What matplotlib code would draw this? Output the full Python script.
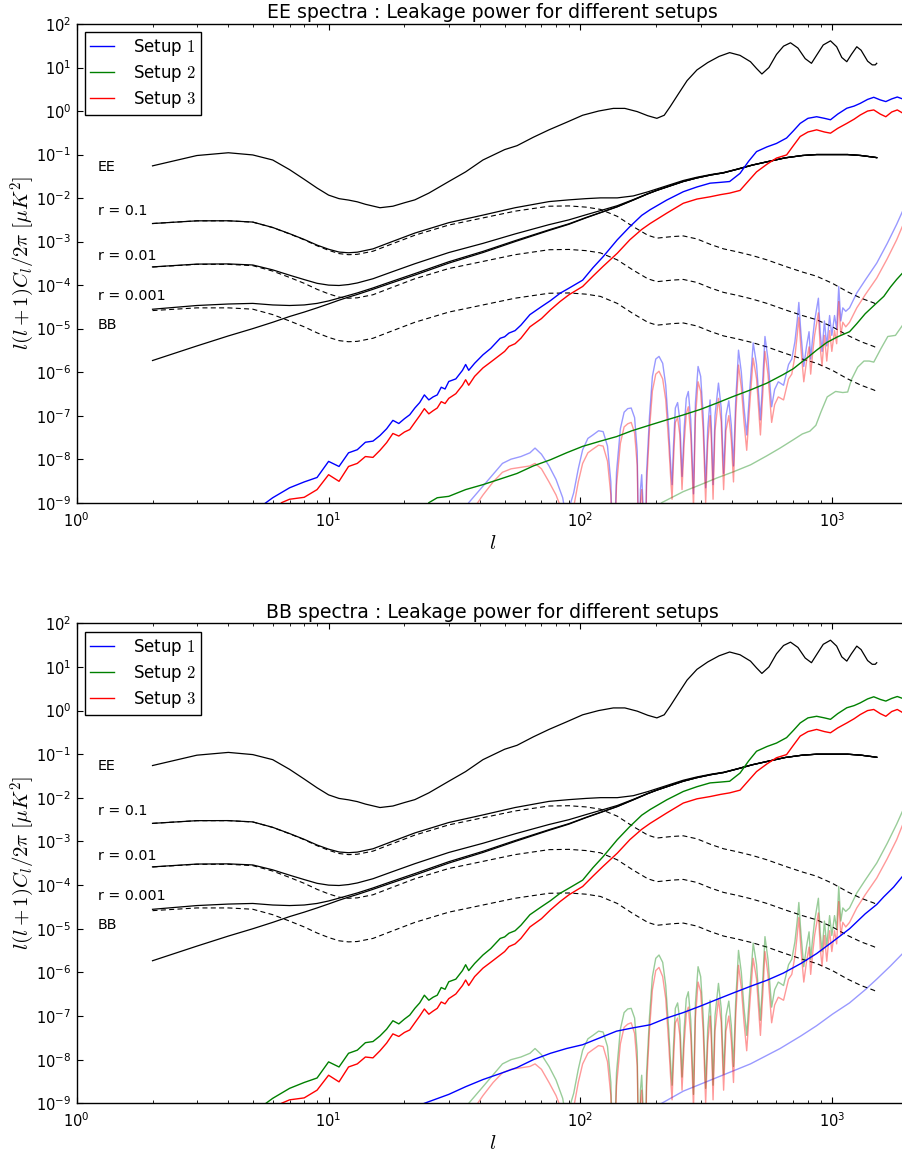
import numpy as np
import matplotlib
matplotlib.use("Agg")
import matplotlib.pyplot as plt
from matplotlib.ticker import LogLocator, NullLocator

plt.rcParams['font.family'] = ['DejaVu Sans']
plt.rcParams['mathtext.fontset'] = 'cm'
plt.rcParams['axes.unicode_minus'] = False

# ---------------- theory curves (shared by both panels) ----------------
ee_theory = [(2, 0.055), (3, 0.095), (4, 0.11), (5, 0.098), (6, 0.075), (7, 0.045), (8, 0.027),
             (9, 0.017), (10, 0.0117), (11, 0.0097), (12, 0.009), (13, 0.0082), (14, 0.0072),
             (16, 0.006), (18, 0.0065), (20, 0.0078), (22, 0.0091), (25, 0.013), (30, 0.024),
             (35, 0.04), (41, 0.075), (50, 0.13), (56, 0.16), (65, 0.25), (75, 0.37), (88, 0.55),
             (102, 0.8), (118, 1.0), (135, 1.15), (150, 1.15), (168, 0.97), (185, 0.78), (201, 0.68),
             (215, 0.8), (227, 1.26), (245, 2.5), (265, 5.0), (290, 8.8), (320, 13.0), (355, 18.0),
             (391, 22.0), (430, 19.0), (473, 13.6), (500, 9.5), (525, 7.1), (560, 10.0), (600, 20.0),
             (640, 31.0), (682, 37.0), (730, 28.0), (780, 16.0), (826, 12.5), (870, 20.0), (920, 33.0),
             (983, 41.0), (1040, 30.0), (1090, 17.0), (1141, 13.6), (1190, 20.0), (1250, 30.0),
             (1300, 25.0), (1380, 14.0), (1440, 11.5), (1480, 11.5), (1500, 12.5)]

l_theory = [2, 3, 4, 5, 6, 7, 8, 9, 10, 11, 12, 13, 15, 18, 22, 30, 41, 55, 75, 90, 105, 120, 140,
            162, 185, 201, 230, 256, 290, 330, 370, 420, 480, 550, 650, 760, 866, 1000, 1150, 1300,
            1460, 1500]
bb_lensing = [1.85e-6, 4.0e-6, 6.8e-6, 1.0e-5, 1.4e-5, 1.9e-5, 2.4e-5, 3.0e-5, 3.7e-5, 4.5e-5,
              5.3e-5, 6.1e-5, 8.0e-5, 1.15e-4, 1.7e-4, 3.2e-4, 5.6e-4, 1.0e-3, 1.8e-3, 2.5e-3,
              3.5e-3, 4.6e-3, 6.3e-3, 9.0e-3, 1.25e-2, 1.5e-2, 1.95e-2, 2.4e-2, 2.9e-2, 3.4e-2,
              3.8e-2, 4.6e-2, 5.7e-2, 6.8e-2, 8.4e-2, 9.5e-2, 0.100, 0.100, 0.100, 0.095, 0.087, 0.085]
bb_tensor_r01 = [2.6e-3, 3.0e-3, 3.0e-3, 2.8e-3, 2.1e-3, 1.5e-3, 1.1e-3, 8.0e-4, 6.3e-4, 5.3e-4,
                 5.0e-4, 5.1e-4, 6.0e-4, 9.0e-4, 1.4e-3, 2.4e-3, 3.5e-3, 5.0e-3, 6.5e-3, 6.6e-3,
                 6.2e-3, 5.5e-3, 3.8e-3, 2.2e-3, 1.4e-3, 1.2e-3, 1.3e-3, 1.35e-3, 1.15e-3, 8.5e-4,
                 6.8e-4, 5.8e-4, 4.8e-4, 3.8e-4, 2.7e-4, 2.0e-4, 1.6e-4, 1.1e-4, 7.0e-5, 5.0e-5,
                 3.9e-5, 3.6e-5]
bb_tensor_r001 = [2.6e-4, 3.0e-4, 3.0e-4, 2.8e-4, 2.1e-4, 1.5e-4, 1.1e-4, 8.0e-5, 6.3e-5, 5.3e-5,
                  5.0e-5, 5.1e-5, 6.0e-5, 9.0e-5, 1.4e-4, 2.4e-4, 3.5e-4, 5.0e-4, 6.5e-4, 6.6e-4,
                  6.2e-4, 5.5e-4, 3.8e-4, 2.2e-4, 1.4e-4, 1.2e-4, 1.3e-4, 1.35e-4, 1.15e-4, 8.5e-5,
                  6.8e-5, 5.8e-5, 4.8e-5, 3.8e-5, 2.7e-5, 2.0e-5, 1.6e-5, 1.1e-5, 7.0e-6, 5.0e-6,
                  3.9e-6, 3.6e-6]
bb_tensor_r0001 = [2.6e-5, 3.0e-5, 3.0e-5, 2.8e-5, 2.1e-5, 1.5e-5, 1.1e-5, 8.0e-6, 6.3e-6, 5.3e-6,
                   5.0e-6, 5.1e-6, 6.0e-6, 9.0e-6, 1.4e-5, 2.4e-5, 3.5e-5, 5.0e-5, 6.5e-5, 6.6e-5,
                   6.2e-5, 5.5e-5, 3.8e-5, 2.2e-5, 1.4e-5, 1.2e-5, 1.3e-5, 1.35e-5, 1.15e-5, 8.5e-6,
                   6.8e-6, 5.8e-6, 4.8e-6, 3.8e-6, 2.7e-6, 2.0e-6, 1.6e-6, 1.1e-6, 7.0e-7, 5.0e-7,
                   3.9e-7, 3.6e-7]
bb_total_r01 = [2.60e-3, 3.00e-3, 3.01e-3, 2.81e-3, 2.11e-3, 1.52e-3, 1.12e-3, 8.3e-4, 6.67e-4,
                5.75e-4, 5.53e-4, 5.71e-4, 6.8e-4, 1.015e-3, 1.57e-3, 2.72e-3, 4.06e-3, 6.0e-3,
                8.3e-3, 9.1e-3, 9.7e-3, 1.01e-2, 1.01e-2, 1.12e-2, 1.39e-2, 1.62e-2, 2.08e-2,
                2.535e-2, 3.015e-2, 3.485e-2, 3.868e-2, 4.658e-2, 5.748e-2, 6.838e-2, 8.427e-2,
                9.52e-2, 0.1002, 0.1001, 0.1001, 0.0950, 0.0870, 0.0850]
bb_total_r001 = [2.62e-4, 3.04e-4, 3.07e-4, 2.9e-4, 2.24e-4, 1.69e-4, 1.34e-4, 1.1e-4, 1.0e-4,
                 9.8e-5, 1.03e-4, 1.12e-4, 1.4e-4, 2.05e-4, 3.1e-4, 5.6e-4, 9.1e-4, 1.5e-3, 2.45e-3,
                 3.16e-3, 4.12e-3, 5.15e-3, 6.68e-3, 9.22e-3, 1.264e-2, 1.512e-2, 1.963e-2,
                 2.4135e-2, 2.9115e-2, 3.4085e-2, 3.8068e-2, 4.6058e-2, 5.7048e-2, 6.8038e-2,
                 8.4027e-2, 9.502e-2, 0.1000, 0.1000, 0.1000, 0.0950, 0.0870, 0.0850]
bb_total_r0001 = [2.79e-5, 3.4e-5, 3.68e-5, 3.8e-5, 3.5e-5, 3.4e-5, 3.5e-5, 3.8e-5, 4.33e-5,
                  5.03e-5, 5.8e-5, 6.61e-5, 8.6e-5, 1.24e-4, 1.84e-4, 3.44e-4, 5.95e-4, 1.05e-3,
                  1.865e-3, 2.566e-3, 3.562e-3, 4.655e-3, 6.338e-3, 9.022e-3, 1.2514e-2, 1.5012e-2,
                  1.9513e-2, 2.4014e-2, 2.9012e-2, 3.4009e-2, 3.8007e-2, 4.6006e-2, 5.7005e-2,
                  6.8004e-2, 8.4003e-2, 9.5002e-2, 0.1000, 0.1000, 0.1000, 0.0950, 0.0870, 0.0850]

curve_labels = ["EE", "r = 0.1", "r = 0.01", "r = 0.001", "BB"]
curve_label_y = [0.053, 5.1e-3, 4.7e-4, 5.6e-5, 1.2e-5]

# ---------------- leakage: main (strong) curves ----------------
ee_setup1 = [(5, 6e-10), (6, 1.3e-9), (7, 2.2e-9), (8, 3.0e-9), (9, 3.8e-9), (10, 8.9e-9),
             (11, 6.8e-9), (12, 1.4e-8), (13, 1.65e-8), (14, 2.45e-8), (15, 2.6e-8), (16, 3.5e-8),
             (17, 5e-8), (18, 7.8e-8), (19, 6.6e-8), (20, 8.5e-8), (21, 1.05e-7), (22, 1.5e-7),
             (23, 2.0e-7), (24, 3.0e-7), (25, 2.3e-7), (26, 2.7e-7), (27, 3.0e-7), (28, 4.5e-7),
             (29, 4.1e-7), (30, 6.1e-7), (32, 7e-7), (34, 1.1e-6), (35, 1.5e-6), (36, 1.1e-6),
             (38, 1.6e-6), (41, 2.5e-6), (44, 3.5e-6), (48, 6e-6), (50, 6.5e-6), (52, 7.9e-6),
             (55, 9e-6), (58, 1.2e-5), (63, 2.1e-5), (70, 3.2e-5), (76, 4.4e-5), (83, 6.5e-5),
             (90, 8.5e-5), (102, 1.3e-4), (112, 2.5e-4), (123, 4.5e-4), (140, 1.1e-3),
             (157, 2.2e-3), (175, 4e-3), (189, 5.4e-3), (220, 9e-3), (256, 0.014), (290, 0.018),
             (327, 0.022), (360, 0.023), (391, 0.024), (430, 0.037), (465, 0.07), (500, 0.117),
             (550, 0.15), (600, 0.18), (658, 0.24), (700, 0.35), (745, 0.52), (800, 0.68),
             (866, 0.74), (930, 0.68), (983, 0.63), (1050, 0.85), (1141, 1.16), (1220, 1.3),
             (1290, 1.5), (1380, 1.85), (1460, 2.07), (1550, 1.8), (1630, 1.65), (1720, 1.9),
             (1810, 2.1), (1900, 1.9), (2000, 2.0)]
ee_setup3 = [(6, 5e-10), (6.5, 1e-9), (7, 1.2e-9), (8, 1.33e-9), (9, 2.0e-9), (10, 4.4e-9),
             (11, 3.1e-9), (12, 6.8e-9), (13, 8e-9), (14, 1.15e-8), (15, 1.1e-8), (16, 1.6e-8),
             (17, 2.4e-8), (18, 3.9e-8), (19, 3.4e-8), (20, 4.2e-8), (21, 4.8e-8), (22, 7e-8),
             (23, 1.0e-7), (24, 1.45e-7), (25, 1.1e-7), (26, 1.3e-7), (27, 1.5e-7), (28, 2.1e-7),
             (29, 1.9e-7), (30, 2.5e-7), (32, 3.2e-7), (34, 5e-7), (35, 6.7e-7), (36, 5e-7),
             (38, 8e-7), (41, 1.25e-6), (44, 1.7e-6), (48, 2.5e-6), (50, 3e-6), (52, 3.9e-6),
             (55, 4.5e-6), (58, 6e-6), (63, 1.1e-5), (70, 1.7e-5), (76, 2.7e-5), (83, 4.2e-5),
             (90, 6e-5), (102, 9.3e-5), (112, 1.6e-4), (123, 2.7e-4), (140, 5.4e-4), (157, 1.1e-3),
             (175, 1.9e-3), (189, 2.6e-3), (220, 4.5e-3), (256, 7.6e-3), (290, 9.5e-3),
             (327, 0.0107), (360, 0.012), (391, 0.013), (430, 0.015), (465, 0.025), (500, 0.04),
             (550, 0.06), (600, 0.083), (658, 0.098), (700, 0.16), (745, 0.26), (800, 0.33),
             (866, 0.37), (930, 0.33), (983, 0.31), (1050, 0.4), (1141, 0.52), (1220, 0.65),
             (1290, 0.81), (1380, 1.0), (1460, 1.06), (1550, 0.85), (1630, 0.74), (1720, 0.95),
             (1810, 1.06), (1900, 0.9), (2000, 0.95)]
ee_setup2 = [(25, 1e-9), (27, 1.3e-9), (30, 1.4e-9), (35, 2e-9), (41, 2.6e-9), (48, 3.5e-9),
             (56, 4.7e-9), (65, 7e-9), (76, 9.7e-9), (88, 1.4e-8), (102, 1.97e-8), (120, 2.6e-8),
             (139, 3.3e-8), (160, 4.5e-8), (189, 6.1e-8), (220, 8e-8), (256, 1.04e-7), (300, 1.4e-7),
             (348, 1.95e-7), (400, 2.7e-7), (473, 3.9e-7), (550, 5.6e-7), (638, 8.8e-7), (700, 1.2e-6),
             (745, 1.6e-6), (800, 2.2e-6), (866, 3.2e-6), (950, 4.8e-6), (1050, 6.5e-6),
             (1170, 8.5e-6), (1250, 1.3e-5), (1350, 2.2e-5), (1500, 3.9e-5), (1600, 5.5e-5),
             (1700, 9e-5), (1800, 1.35e-4), (1900, 1.9e-4), (2000, 2.5e-4)]

bb_setup2 = [(5, 6e-10), (6, 1.3e-9), (7, 2.2e-9), (8, 3.0e-9), (9, 3.8e-9), (10, 8.9e-9),
             (11, 6.8e-9), (12, 1.4e-8), (13, 1.65e-8), (14, 2.45e-8), (15, 2.6e-8), (16, 3.5e-8),
             (17, 5e-8), (18, 7.8e-8), (19, 6.6e-8), (20, 8.5e-8), (21, 1.05e-7), (22, 1.5e-7),
             (23, 2.0e-7), (24, 3.0e-7), (25, 2.3e-7), (26, 2.7e-7), (27, 3.0e-7), (28, 4.5e-7),
             (29, 4.1e-7), (30, 6.1e-7), (32, 7e-7), (34, 1.1e-6), (35, 1.5e-6), (36, 1.1e-6),
             (38, 1.6e-6), (41, 2.5e-6), (44, 3.5e-6), (48, 6e-6), (50, 6.5e-6), (52, 7.9e-6),
             (55, 9e-6), (58, 1.2e-5), (63, 2.1e-5), (70, 3.2e-5), (76, 4.4e-5), (83, 6.5e-5),
             (90, 8.5e-5), (102, 1.3e-4), (112, 2.5e-4), (123, 4.5e-4), (140, 1.1e-3),
             (157, 2.2e-3), (175, 4e-3), (189, 5.4e-3), (220, 9e-3), (256, 0.014), (290, 0.018),
             (327, 0.022), (360, 0.023), (391, 0.024), (430, 0.037), (465, 0.07), (500, 0.117),
             (550, 0.15), (600, 0.18), (658, 0.24), (700, 0.35), (745, 0.52), (800, 0.68),
             (866, 0.74), (930, 0.68), (983, 0.63), (1050, 0.85), (1141, 1.16), (1220, 1.3),
             (1290, 1.5), (1380, 1.85), (1460, 2.07), (1550, 1.8), (1630, 1.65), (1720, 1.9),
             (1810, 2.1), (1900, 1.9), (2000, 2.0)]
bb_setup3 = [(6, 5e-10), (6.5, 1e-9), (7, 1.2e-9), (8, 1.33e-9), (9, 2.0e-9), (10, 4.4e-9),
             (11, 3.1e-9), (12, 6.8e-9), (13, 8e-9), (14, 1.15e-8), (15, 1.1e-8), (16, 1.6e-8),
             (17, 2.4e-8), (18, 3.9e-8), (19, 3.4e-8), (20, 4.2e-8), (21, 4.8e-8), (22, 7e-8),
             (23, 1.0e-7), (24, 1.45e-7), (25, 1.1e-7), (26, 1.3e-7), (27, 1.5e-7), (28, 2.1e-7),
             (29, 1.9e-7), (30, 2.5e-7), (32, 3.2e-7), (34, 5e-7), (35, 6.7e-7), (36, 5e-7),
             (38, 8e-7), (41, 1.25e-6), (44, 1.7e-6), (48, 2.5e-6), (50, 3e-6), (52, 3.9e-6),
             (55, 4.5e-6), (58, 6e-6), (63, 1.1e-5), (70, 1.7e-5), (76, 2.7e-5), (83, 4.2e-5),
             (90, 6e-5), (102, 9.3e-5), (112, 1.6e-4), (123, 2.7e-4), (140, 5.4e-4), (157, 1.1e-3),
             (175, 1.9e-3), (189, 2.6e-3), (220, 4.5e-3), (256, 7.6e-3), (290, 9.5e-3),
             (327, 0.0107), (360, 0.012), (391, 0.013), (430, 0.015), (465, 0.025), (500, 0.04),
             (550, 0.06), (600, 0.083), (658, 0.098), (700, 0.16), (745, 0.26), (800, 0.33),
             (866, 0.37), (930, 0.33), (983, 0.31), (1050, 0.4), (1141, 0.52), (1220, 0.65),
             (1290, 0.81), (1380, 1.0), (1460, 1.06), (1550, 0.85), (1630, 0.74), (1720, 0.95),
             (1810, 1.06), (1900, 0.9), (2000, 0.95)]
bb_setup1 = [(24, 1e-9), (30, 1.6e-9), (35, 2.4e-9), (41, 3.5e-9), (48, 4.8e-9), (56, 6.6e-9),
             (65, 1.0e-8), (76, 1.4e-8), (88, 1.8e-8), (102, 2.2e-8), (120, 3.2e-8), (139, 4.5e-8),
             (160, 5.3e-8), (189, 6.3e-8), (220, 9e-8), (256, 1.2e-7), (300, 1.7e-7), (348, 2.4e-7),
             (400, 3.3e-7), (473, 4.8e-7), (550, 6.6e-7), (638, 9.6e-7), (750, 1.6e-6),
             (866, 2.7e-6), (1000, 5e-6), (1170, 1e-5), (1350, 2.2e-5), (1500, 3.6e-5),
             (1600, 5.4e-5), (1750, 9e-5), (1900, 1.6e-4), (2000, 2.2e-4)]

# ---------------- leakage: secondary (faint) curves ----------------
ee_setup1_faint = [(36, 1e-9), (41, 2.4e-9), (45, 4.5e-9), (49, 8e-9), (53, 1.0e-8), (58, 1.15e-8),
    (63, 1.4e-8), (66, 1.8e-8), (70, 1.3e-8), (75, 7e-9), (80, 3.4e-9), (85, 1.3e-9), (88, 4e-10),
    (91, 9e-10), (94, 1.7e-9), (98, 6e-9), (102, 1.65e-8), (107, 3e-8), (112, 3.6e-8), (118, 4.5e-8),
    (123, 4.3e-8), (128, 2e-8), (132, 3e-9), (135, 1e-11), (139, 5e-9), (144, 5e-8), (149, 1.2e-7),
    (154, 1.45e-7), (159, 1.5e-7), (164, 9e-8), (168, 1.5e-8), (171, 1e-11), (173, 2e-9),
    (175, 4.4e-9), (177, 1e-9), (180, 1e-11), (183, 5e-9), (188, 1e-7), (193, 8e-7), (199, 2e-6),
    (205, 2.3e-6), (212, 1.6e-6), (218, 5e-7), (224, 5e-8), (229, 5e-9), (231, 2.6e-9), (234, 2e-8),
    (238, 1.5e-7), (243, 2e-7), (248, 8e-8), (253, 4e-9), (258, 5e-8), (263, 2.5e-7), (268, 3.6e-7),
    (274, 8e-8), (281, 1.6e-9), (286, 2e-7), (293, 1.35e-6), (300, 8e-7), (307, 1e-7), (314, 2.2e-9),
    (320, 5e-8), (327, 2.3e-7), (331, 5e-8), (336, 2.6e-9), (342, 1e-7), (353, 5.6e-7), (362, 1.5e-7),
    (370, 4.7e-9), (378, 1e-7), (388, 2.2e-7), (397, 6e-8), (405, 7e-9), (413, 2e-7), (424, 3.2e-6),
    (435, 1e-6), (446, 1.5e-7), (457, 3.6e-8), (470, 4e-7), (485, 4.7e-6), (500, 1.5e-6), (518, 8e-8),
    (530, 8e-7), (540, 6.6e-6), (555, 2e-6), (574, 1.6e-7), (590, 4e-7), (610, 6e-7), (640, 5e-7),
    (670, 1.5e-6), (690, 2e-6), (710, 5e-6), (725, 1.5e-5), (736, 4e-5), (750, 8e-6), (770, 1.35e-6),
    (790, 4e-6), (808, 8.5e-6), (820, 2e-6), (835, 6e-6), (850, 1.5e-5), (880, 5e-5), (895, 8e-6),
    (910, 3e-6), (930, 1.5e-5), (950, 4e-6), (975, 2e-5), (995, 7e-6), (1020, 2e-5), (1040, 1e-5),
    (1060, 9.3e-5), (1080, 1.5e-5), (1100, 3e-5), (1130, 2.5e-5), (1170, 3e-5), (1250, 6.6e-5),
    (1350, 1.3e-4), (1500, 3.2e-4), (1650, 9e-4), (1800, 2.5e-3), (1900, 5e-3), (2000, 8e-3)]
ee_setup3_faint = [(36, 5e-10), (41, 1.5e-9), (45, 3e-9), (49, 5e-9), (53, 6e-9), (58, 6.5e-9),
    (63, 7e-9), (66, 8e-9), (70, 6e-9), (75, 3e-9), (80, 1.5e-9), (85, 6e-10), (88, 2e-10),
    (91, 4e-10), (94, 8e-10), (98, 3e-9), (102, 8e-9), (107, 1.4e-8), (112, 1.7e-8), (118, 2.1e-8),
    (123, 2e-8), (128, 9e-9), (132, 1.5e-9), (135, 1e-11), (139, 2.5e-9), (144, 2.3e-8), (149, 5.5e-8),
    (154, 6.5e-8), (159, 7e-8), (164, 4e-8), (168, 7e-9), (171, 1e-11), (173, 1e-9), (175, 2e-9),
    (177, 5e-10), (180, 1e-11), (183, 2.5e-9), (188, 5e-8), (193, 3.7e-7), (199, 9e-7), (205, 1.05e-6),
    (212, 7e-7), (218, 2.3e-7), (224, 2.3e-8), (229, 2.5e-9), (231, 1.2e-9), (234, 9e-9), (238, 7e-8),
    (243, 9e-8), (248, 3.6e-8), (253, 2e-9), (258, 2.3e-8), (263, 1.1e-7), (268, 1.6e-7), (274, 3.6e-8),
    (281, 8e-10), (286, 9e-8), (293, 6e-7), (300, 3.6e-7), (307, 4.5e-8), (314, 1e-9), (320, 2.3e-8),
    (327, 1e-7), (331, 2.3e-8), (336, 1.2e-9), (342, 4.5e-8), (353, 2.5e-7), (362, 7e-8), (370, 2e-9),
    (378, 4.5e-8), (388, 1e-7), (397, 2.7e-8), (405, 3e-9), (413, 9e-8), (424, 1.45e-6), (435, 4.5e-7),
    (446, 7e-8), (457, 1.6e-8), (470, 1.8e-7), (485, 2.1e-6), (500, 7e-7), (518, 3.6e-8), (530, 3.6e-7),
    (540, 3e-6), (555, 9e-7), (574, 7e-8), (590, 1.8e-7), (610, 2.7e-7), (640, 2.3e-7), (670, 7e-7),
    (690, 9e-7), (710, 2.3e-6), (725, 7e-6), (736, 1.8e-5), (750, 3.6e-6), (770, 6e-7), (790, 1.8e-6),
    (808, 3.8e-6), (820, 9e-7), (835, 2.7e-6), (850, 7e-6), (880, 2.3e-5), (895, 3.6e-6), (910, 1.4e-6),
    (930, 7e-6), (950, 1.8e-6), (975, 9e-6), (995, 3e-6), (1020, 9e-6), (1040, 4.5e-6), (1060, 4.2e-5),
    (1080, 7e-6), (1100, 1.4e-5), (1130, 1.1e-5), (1170, 1.4e-5), (1250, 3e-5), (1350, 6e-5),
    (1500, 1.45e-4), (1650, 4e-4), (1800, 1.1e-3), (1900, 2.3e-3), (2000, 3.8e-3)]
ee_setup2_faint = [(205, 8e-10), (210, 1e-9), (256, 1.8e-9), (300, 2.6e-9), (348, 3.7e-9),
    (400, 5e-9), (473, 7.4e-9), (550, 1.2e-8), (620, 1.8e-8), (700, 2.8e-8), (760, 3.8e-8),
    (814, 4.4e-8), (860, 6e-8), (900, 1.2e-7), (954, 2.7e-7), (1030, 3.6e-7), (1100, 3.4e-7),
    (1150, 3.5e-7), (1190, 6.7e-7), (1260, 1.3e-6), (1335, 1.8e-6), (1400, 1.8e-6), (1460, 1.7e-6),
    (1560, 3.5e-6), (1660, 6.6e-6), (1780, 7e-6), (1900, 1.2e-5), (2000, 1.6e-5)]

bb_setup2_faint = [(36, 1e-9), (41, 2.4e-9), (45, 4.5e-9), (49, 8e-9), (53, 1.0e-8), (58, 1.15e-8),
    (63, 1.4e-8), (66, 1.8e-8), (70, 1.3e-8), (75, 7e-9), (80, 3.4e-9), (85, 1.3e-9), (88, 4e-10),
    (91, 9e-10), (94, 1.7e-9), (98, 6e-9), (102, 1.65e-8), (107, 3e-8), (112, 3.6e-8), (118, 4.5e-8),
    (123, 4.3e-8), (128, 2e-8), (132, 3e-9), (135, 1e-11), (139, 5e-9), (144, 5e-8), (149, 1.2e-7),
    (154, 1.45e-7), (159, 1.5e-7), (164, 9e-8), (168, 1.5e-8), (171, 1e-11), (173, 2e-9),
    (175, 4.4e-9), (177, 1e-9), (180, 1e-11), (183, 5e-9), (188, 1e-7), (193, 8e-7), (199, 2.1e-6),
    (205, 2.5e-6), (212, 1.7e-6), (218, 5e-7), (224, 5e-8), (229, 5e-9), (231, 2.6e-9), (234, 2e-8),
    (238, 1.5e-7), (243, 2e-7), (248, 8e-8), (253, 4e-9), (258, 5e-8), (263, 2.5e-7), (268, 3.6e-7),
    (274, 8e-8), (281, 1.6e-9), (286, 2e-7), (293, 1.35e-6), (300, 8e-7), (307, 1e-7), (314, 2.2e-9),
    (320, 5e-8), (327, 2.3e-7), (331, 5e-8), (336, 2.6e-9), (342, 1e-7), (353, 5.6e-7), (362, 1.5e-7),
    (370, 4.7e-9), (378, 1e-7), (388, 2.2e-7), (397, 6e-8), (405, 7e-9), (413, 2e-7), (424, 3.2e-6),
    (435, 1e-6), (446, 1.5e-7), (457, 3.6e-8), (470, 4e-7), (485, 4.7e-6), (500, 1.5e-6), (518, 8e-8),
    (530, 8e-7), (540, 6.6e-6), (555, 2e-6), (574, 1.6e-7), (590, 4e-7), (610, 6e-7), (640, 5e-7),
    (670, 1.5e-6), (690, 2e-6), (710, 5e-6), (725, 1.5e-5), (736, 4e-5), (750, 8e-6), (770, 1.35e-6),
    (790, 4e-6), (808, 8.5e-6), (820, 2e-6), (835, 6e-6), (850, 1.5e-5), (880, 5e-5), (895, 8e-6),
    (910, 3e-6), (930, 1.5e-5), (950, 4e-6), (975, 2e-5), (995, 7e-6), (1020, 2e-5), (1040, 1e-5),
    (1060, 9.3e-5), (1080, 1.5e-5), (1100, 3e-5), (1130, 2.5e-5), (1170, 3e-5), (1250, 6.6e-5),
    (1350, 1.3e-4), (1500, 3.2e-4), (1650, 9e-4), (1800, 2.5e-3), (1900, 5e-3), (2000, 8e-3)]
bb_setup3_faint = [(36, 5e-10), (41, 1.5e-9), (45, 3e-9), (49, 5e-9), (53, 6e-9), (58, 6.5e-9),
    (63, 7e-9), (66, 8e-9), (70, 6e-9), (75, 3e-9), (80, 1.5e-9), (85, 6e-10), (88, 2e-10),
    (91, 4e-10), (94, 8e-10), (98, 3e-9), (102, 8e-9), (107, 1.4e-8), (112, 1.7e-8), (118, 2.1e-8),
    (123, 2e-8), (128, 9e-9), (132, 1.5e-9), (135, 1e-11), (139, 2.5e-9), (144, 2.3e-8), (149, 5.5e-8),
    (154, 6.5e-8), (159, 7e-8), (164, 4e-8), (168, 7e-9), (171, 1e-11), (173, 1e-9), (175, 2e-9),
    (177, 5e-10), (180, 1e-11), (183, 2.5e-9), (188, 5e-8), (193, 4e-7), (199, 1.1e-6), (205, 1.3e-6),
    (212, 8e-7), (218, 2.5e-7), (224, 2.3e-8), (229, 2.5e-9), (231, 1.2e-9), (234, 9e-9), (238, 7e-8),
    (243, 9e-8), (248, 3.6e-8), (253, 2e-9), (258, 2.3e-8), (263, 1.1e-7), (268, 1.6e-7), (274, 3.6e-8),
    (281, 8e-10), (286, 9e-8), (293, 6e-7), (300, 3.6e-7), (307, 4.5e-8), (314, 1e-9), (320, 2.3e-8),
    (327, 1e-7), (331, 2.3e-8), (336, 1.2e-9), (342, 4.5e-8), (353, 2.5e-7), (362, 7e-8), (370, 2e-9),
    (378, 4.5e-8), (388, 1e-7), (397, 2.7e-8), (405, 3e-9), (413, 9e-8), (424, 1.45e-6), (435, 4.5e-7),
    (446, 7e-8), (457, 1.6e-8), (470, 1.8e-7), (485, 2.1e-6), (500, 7e-7), (518, 3.6e-8), (530, 3.6e-7),
    (540, 3e-6), (555, 9e-7), (574, 7e-8), (590, 1.8e-7), (610, 2.7e-7), (640, 2.3e-7), (670, 7e-7),
    (690, 9e-7), (710, 2.3e-6), (725, 7e-6), (736, 1.8e-5), (750, 3.6e-6), (770, 6e-7), (790, 1.8e-6),
    (808, 3.8e-6), (820, 9e-7), (835, 2.7e-6), (850, 7e-6), (880, 2.3e-5), (895, 3.6e-6), (910, 1.4e-6),
    (930, 7e-6), (950, 1.8e-6), (975, 9e-6), (995, 3e-6), (1020, 9e-6), (1040, 4.5e-6), (1060, 4.2e-5),
    (1080, 7e-6), (1100, 1.4e-5), (1130, 1.1e-5), (1170, 1.4e-5), (1250, 3e-5), (1350, 6e-5),
    (1500, 1.45e-4), (1650, 4e-4), (1800, 1.1e-3), (1900, 2.4e-3), (2000, 3.8e-3)]
bb_setup1_faint = [(205, 8e-10), (210, 1e-9), (256, 1.9e-9), (348, 3.9e-9), (473, 8e-9),
    (620, 1.8e-8), (750, 3.5e-8), (866, 6e-8), (1000, 1.1e-7), (1170, 2e-7), (1350, 4e-7),
    (1500, 7e-7), (1700, 1.4e-6), (1900, 2.7e-6), (2000, 3.5e-6)]

setup_names = ["Setup $1$", "Setup $2$", "Setup $3$"]
setup_colors = ["b", "g", "r"]
titles = ["EE spectra : Leakage power for different setups",
          "BB spectra : Leakage power for different setups"]

panels = [
    {"main": [ee_setup1, ee_setup2, ee_setup3],
     "faint": [ee_setup1_faint, ee_setup2_faint, ee_setup3_faint]},
    {"main": [bb_setup1, bb_setup2, bb_setup3],
     "faint": [bb_setup1_faint, bb_setup2_faint, bb_setup3_faint]},
]

W, H = 902, 1151
fig = plt.figure(figsize=(W / 100, H / 100), dpi=100)


def add_axes_px(x0, y0, x1, y1):
    return fig.add_axes([x0 / W, 1 - y1 / H, (x1 - x0) / W, (y1 - y0) / H])


axes = [add_axes_px(76.7, 24, 908.2, 502.7), add_axes_px(76.7, 623.3, 908.2, 1103.3)]


def xy(pairs):
    a = np.array(pairs, dtype=float)
    return a[:, 0], a[:, 1]


for ax, title, panel in zip(axes, titles, panels):
    ax.set_xscale('log')
    ax.set_yscale('log')
    # theory
    lx, ly = xy(ee_theory)
    ax.plot(lx, ly, color='k', lw=0.9)
    for tot in (bb_total_r01, bb_total_r001, bb_total_r0001):
        ax.plot(l_theory, tot, color='k', lw=0.9)
    ax.plot(l_theory, bb_lensing, color='k', lw=0.9)
    for ten in (bb_tensor_r01, bb_tensor_r001, bb_tensor_r0001):
        ax.plot(l_theory, ten, color='k', lw=0.8, ls='--', dashes=(4.5, 3))
    # faint curves
    for pairs, c in zip(panel["faint"], setup_colors):
        fx, fy = xy(pairs)
        ax.plot(fx, fy, color=c, lw=1.0, alpha=0.4)
    # main curves
    handles = []
    for pairs, c, name in zip(panel["main"], setup_colors, setup_names):
        mx, my = xy(pairs)
        h, = ax.plot(mx, my, color=c, lw=1.0, label=name)
        handles.append(h)
    for lab, yv in zip(curve_labels, curve_label_y):
        ax.text(1.21, yv, lab, fontsize=10.3, va='center', ha='left')

    ax.set_xlim(1, 2000)
    ax.set_ylim(1e-9, 1e2)
    ax.xaxis.set_major_locator(LogLocator(base=10, numticks=10))
    ax.xaxis.set_minor_locator(LogLocator(base=10, subs=np.arange(2, 10), numticks=20))
    ax.yaxis.set_major_locator(LogLocator(base=10, numticks=20))
    ax.yaxis.set_minor_locator(NullLocator())
    ax.tick_params(which='both', direction='in', top=True, right=True)
    ax.tick_params(axis='y', labelsize=10.5, pad=4)
    ax.tick_params(axis='x', labelsize=10.5, pad=6)
    ax.tick_params(which='major', length=4, width=0.8)
    ax.tick_params(which='minor', length=2, width=0.6)
    for sp in ax.spines.values():
        sp.set_linewidth(1.0)
    ax.set_title(title, fontsize=13.6, pad=4)
    ax.set_xlabel('$l$', fontsize=15, labelpad=2)
    ax.set_ylabel(r'$l(l+1)C_l/2\pi\ [\mu K^2]$', fontsize=15, labelpad=-1)
    leg = ax.legend(handles=handles, loc='upper left', fontsize=12, fancybox=False,
                    framealpha=1, edgecolor='k', handlelength=1.45, handletextpad=1.1,
                    labelspacing=0.3, borderpad=0.3, borderaxespad=0.5)
    leg.get_frame().set_linewidth(1.0)

fig.savefig('out.png', dpi=100)
